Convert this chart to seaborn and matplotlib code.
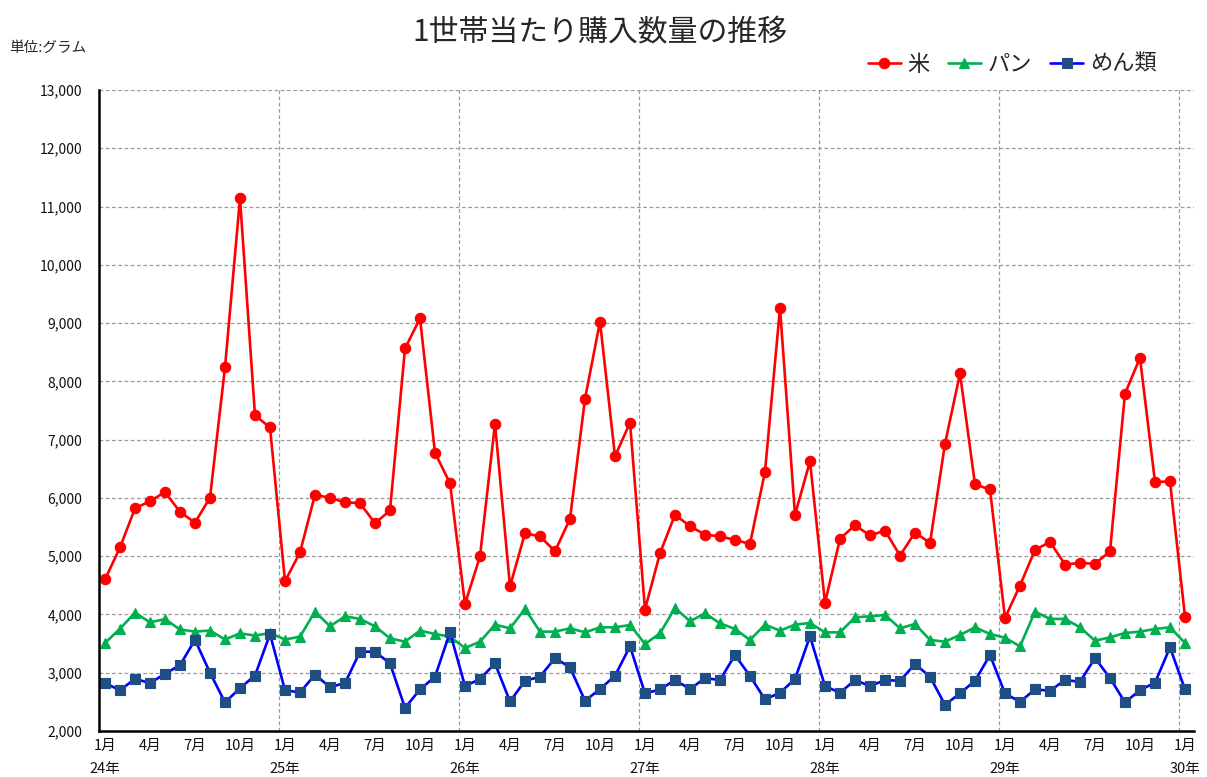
import numpy as np
import pandas as pd
import matplotlib
matplotlib.use("Agg")
import matplotlib.pyplot as plt
import seaborn as sns
from matplotlib.ticker import FuncFormatter, FixedLocator

# ---- data (grams per household, monthly, Jan 24 .. Jan 30) ----
rice = [4600, 5150, 5820, 5945, 6100, 5760, 5575, 6005, 8240, 11140, 7415, 7210,
        4570, 5065, 6055, 6000, 5925, 5910, 5565, 5785, 8565, 9080, 6775, 6250,
        4180, 4995, 7275, 4480, 5395, 5340, 5085, 5640, 7700, 9025, 6715, 7290,
        4085, 5050, 5710, 5515, 5370, 5340, 5280, 5210, 6450, 9258, 5710, 6630,
        4198, 5298, 5533, 5355, 5440, 5010, 5405, 5228, 6930, 8135, 6232, 6146,
        3940, 4496, 5108, 5245, 4857, 4885, 4868, 5086, 7790, 8404, 6272, 6284,
        3963]
bread = [3510, 3755, 4030, 3865, 3920, 3742, 3706, 3724, 3571, 3675, 3638, 3681,
         3570, 3619, 4049, 3797, 3968, 3923, 3797, 3590, 3533, 3722, 3665, 3619,
         3424, 3533, 3825, 3762, 4095, 3705, 3705, 3762, 3693, 3779, 3779, 3819,
         3493, 3676, 4112, 3883, 4020, 3848, 3751, 3562, 3825, 3722, 3825, 3854,
         3693, 3693, 3951, 3968, 3991, 3762, 3837, 3562, 3533, 3648, 3779, 3665,
         3600, 3453, 4049, 3923, 3923, 3779, 3550, 3607, 3682, 3705, 3751, 3779,
         3510]
noodles = [2822, 2699, 2896, 2822, 2982, 3129, 3564, 3000, 2491, 2736, 2951, 3663,
           2700, 2662, 2966, 2754, 2822, 3361, 3361, 3160, 2398, 2713, 2931, 3693,
           2771, 2891, 3160, 2507, 2862, 2931, 3252, 3092, 2519, 2719, 2948, 3453,
           2645, 2713, 2874, 2719, 2908, 2874, 3304, 2943, 2542, 2656, 2891, 3625,
           2770, 2656, 2874, 2771, 2874, 2862, 3149, 2931, 2450, 2645, 2862, 3304,
           2645, 2501, 2713, 2691, 2874, 2845, 3252, 2908, 2490, 2702, 2828, 3436,
           2713]
years = ["24年", "25年", "26年", "27年", "28年", "29年", "30年"]
months = ["1月", "4月", "7月", "10月"]
series_names = ["米", "パン", "めん類"]

idx = np.arange(len(rice))
df = pd.DataFrame({"t": idx, "米": rice, "パン": bread, "めん類": noodles})

sns.set_theme(style="white")
plt.rcParams["font.family"] = ["Noto Sans CJK JP", "DejaVu Sans"]

fig = plt.figure(figsize=(12.07, 7.77), dpi=100)
ax = fig.add_axes([99 / 1207, 1 - 731 / 777, (1194 - 99) / 1207, (731 - 90) / 777])

styles = {
    "米": dict(color="#FF0000", marker="o", markersize=7.5, markerfacecolor="#FF0000",
              markeredgecolor="#FF0000"),
    "パン": dict(color="#00B050", marker="^", markersize=7.5, markerfacecolor="#00B050",
               markeredgecolor="#00B050"),
    "めん類": dict(color="#0000FF", marker="s", markersize=6.5, markerfacecolor="#1F4E84",
                markeredgecolor="#1F4E84"),
}
for name in series_names:
    sns.lineplot(data=df, x="t", y=name, ax=ax, linewidth=1.9, label=name,
                 markeredgewidth=0.8, **styles[name])

ax.set_xlim(-0.4, 72.6)
ax.set_ylim(2000, 13000)
ax.set_yticks(np.arange(2000, 13001, 1000))
ax.yaxis.set_major_formatter(FuncFormatter(lambda v, p: f"{int(v):,}"))
ax.grid(axis="y", color="#9a9a9a", linestyle=(0, (3, 2)), linewidth=0.9)

# x labels at quarterly months
ticks, labels = [], []
for k in range(0, 73, 3):
    m = months[(k % 12) // 3]
    if k % 12 == 0:
        labels.append(f"{m}\n{years[k // 12]}")
    else:
        labels.append(m)
    ticks.append(k)
ax.set_xticks(ticks)
ax.set_xticklabels(labels, fontsize=10.5, linespacing=1.75)
ax.tick_params(axis="x", which="major", length=0, pad=6)
ax.tick_params(axis="y", which="major", length=0, pad=12, labelsize=10)

# year boundaries
bounds = [11.6 + 12 * k for k in range(6)]
ax.xaxis.set_minor_locator(FixedLocator(bounds))
ax.tick_params(axis="x", which="minor", direction="in", length=5, width=1, color="#555555")
for b in bounds:
    ax.axvline(b, color="#9a9a9a", linestyle=(0, (3, 2)), linewidth=0.9, zorder=0)

for s in ["top", "right"]:
    ax.spines[s].set_visible(False)
for s in ["left", "bottom"]:
    ax.spines[s].set_color("black")
    ax.spines[s].set_linewidth(1.8)
ax.set_xlabel("")
ax.set_ylabel("")

for lab in ax.get_xticklabels() + ax.get_yticklabels():
    lab.set_color("#111111")

leg = ax.legend(loc="lower right", bbox_to_anchor=(0.976, 1.005), ncol=3, frameon=False,
                fontsize=16, handlelength=1.5, columnspacing=0.8, handletextpad=0.3,
                borderaxespad=0.1)

fig.text(0.497, 0.958, "1世帯当たり購入数量の推移", ha="center", va="center",
         fontsize=21.5)
fig.text(0.008, 0.939, "単位:グラム", ha="left", va="center", fontsize=10.5)

fig.savefig("out.png", dpi=100)
